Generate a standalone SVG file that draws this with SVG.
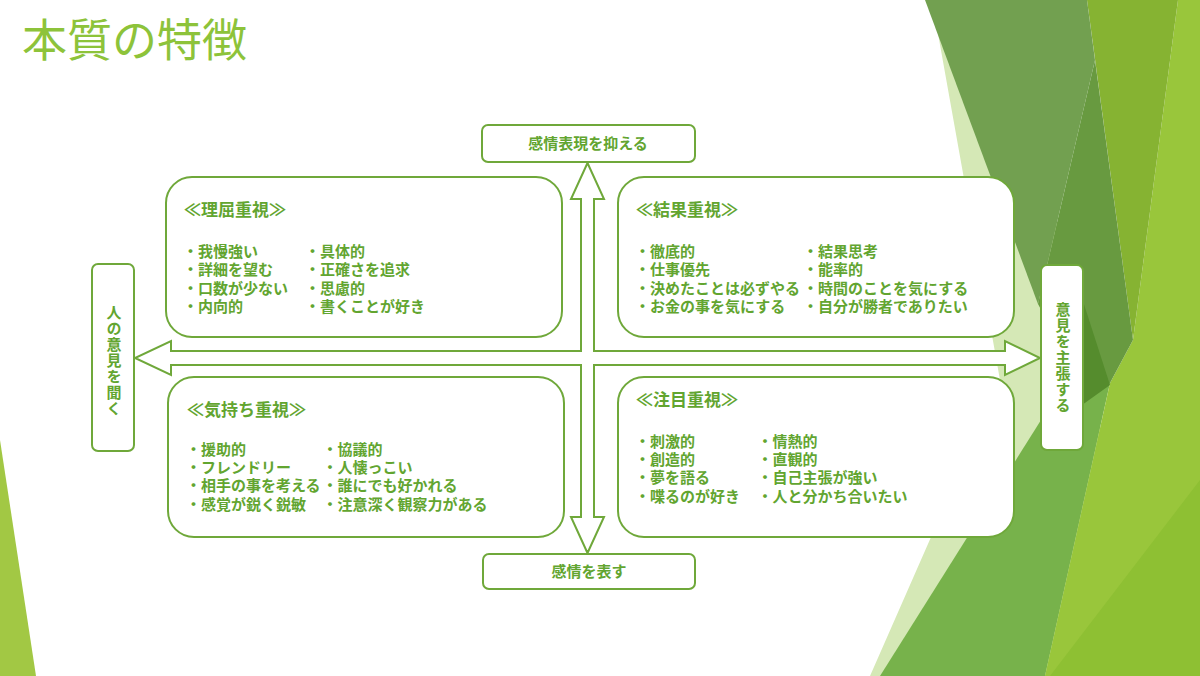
<svg xmlns="http://www.w3.org/2000/svg" width="1200" height="676" viewBox="0 0 1200 676">
<style>
.title{font-family:"Noto Sans CJK JP","Noto Sans",sans-serif;font-size:45px;font-weight:400;fill:#8DC33A}
.box{fill:#fff;stroke:#6FA83A;stroke-width:2}
.lbl{font-family:"Liberation Sans","Noto Sans CJK JP",sans-serif;font-size:15px;font-weight:700;fill:#62A530}
.hd{font-family:"Liberation Sans","Noto Sans CJK JP",sans-serif;font-size:17px;font-weight:700;fill:#62A530}
.it{font-family:"Liberation Sans","Noto Sans CJK JP",sans-serif;font-size:15px;font-weight:700;fill:#62A530}
.vt{writing-mode:vertical-rl;text-anchor:middle;letter-spacing:1px}
</style>
<g id="background">
<polygon points="0,440 36,676 0,676" fill="#A2C844"/>
<polygon points="932,0 1000,380 870,676 1100,676 1100,300" fill="#D5E8B6"/>
<polygon points="1087,347 1110,383 1045,676 880,676" fill="#77B24B"/>
<polygon points="1178,0 1200,0 1200,676 1045,676 1110,383 1133,340" fill="#99C63B"/>
<polygon points="1200,480 1200,676 1050,676" fill="#8EC033"/>
<polygon points="1087,0 1178,0 1133,340" fill="#86B332"/>
<polygon points="925,0 1087,0 1095,60 1038,304" fill="#72A050"/>
<polygon points="1095,60 1133,340 1110,383 1088,398 1038,304" fill="#689A40"/>
<polygon points="1082,298 1110,385 1082,405" fill="#558C2D"/>
</g>
<text class="title" x="22" y="57">本質の特徴</text>
<g id="connectors">
<path class="box" d="M587.5,163 L604,199 L594,199 L594,351 L1005,351 L1005,341 L1040,358 L1005,375 L1005,365 L594,365 L594,517 L604,517 L587.5,553 L571,517 L581,517 L581,365 L171,365 L171,375 L135,358 L171,341 L171,351 L581,351 L581,199 L571,199 Z"/>
</g>
<g id="top">
<rect class="box" x="482" y="125" width="213" height="37" rx="6"/>
<text class="lbl" x="588" y="148.5" text-anchor="middle">感情表現を抑える</text>
</g>
<g id="bottom">
<rect class="box" x="483" y="554" width="212" height="35" rx="6"/>
<text class="lbl" x="589" y="577" text-anchor="middle">感情を表す</text>
</g>
<g id="left">
<rect class="box" x="92" y="264" width="42" height="187" rx="6"/>
<text class="lbl vt" x="113" y="361">人の意見を聞く</text>
</g>
<g id="right">
<rect class="box" x="1041" y="265" width="42" height="185" rx="6"/>
<text class="lbl vt" x="1062" y="358">意見を主張する</text>
</g>
<g id="q-tl">
<rect class="box" x="166" y="177" width="396" height="160" rx="26"/>
<text class="hd" x="184" y="216">≪理屈重視≫</text>
<text class="it" y="257"><tspan x="183">・我慢強い</tspan><tspan x="183" dy="18.4">・詳細を望む</tspan><tspan x="183" dy="18.4">・口数が少ない</tspan><tspan x="183" dy="18.4">・内向的</tspan></text>
<text class="it" y="257"><tspan x="305">・具体的</tspan><tspan x="305" dy="18.4">・正確さを追求</tspan><tspan x="305" dy="18.4">・思慮的</tspan><tspan x="305" dy="18.4">・書くことが好き</tspan></text>
</g>
<g id="q-tr">
<rect class="box" x="618" y="177" width="396" height="160" rx="26"/>
<text class="hd" x="636" y="216">≪結果重視≫</text>
<text class="it" y="257"><tspan x="635">・徹底的</tspan><tspan x="635" dy="18.4">・仕事優先</tspan><tspan x="635" dy="18.4">・決めたことは必ずやる</tspan><tspan x="635" dy="18.4">・お金の事を気にする</tspan></text>
<text class="it" y="257"><tspan x="803">・結果思考</tspan><tspan x="803" dy="18.4">・能率的</tspan><tspan x="803" dy="18.4">・時間のことを気にする</tspan><tspan x="803" dy="18.4">・自分が勝者でありたい</tspan></text>
</g>
<g id="q-bl">
<rect class="box" x="168" y="377" width="396" height="160" rx="26"/>
<text class="hd" x="187" y="416">≪気持ち重視≫</text>
<text class="it" y="454.5"><tspan x="186">・援助的</tspan><tspan x="186" dy="18.4">・フレンドリー</tspan><tspan x="186" dy="18.4">・相手の事を考える</tspan><tspan x="186" dy="18.4">・感覚が鋭く鋭敏</tspan></text>
<text class="it" y="454.5"><tspan x="322.5">・協議的</tspan><tspan x="322.5" dy="18.4">・人懐っこい</tspan><tspan x="322.5" dy="18.4">・誰にでも好かれる</tspan><tspan x="322.5" dy="18.4">・注意深く観察力がある</tspan></text>
</g>
<g id="q-br">
<rect class="box" x="618" y="377" width="396" height="160" rx="26"/>
<text class="hd" x="636" y="406">≪注目重視≫</text>
<text class="it" y="446.5"><tspan x="635">・刺激的</tspan><tspan x="635" dy="18.4">・創造的</tspan><tspan x="635" dy="18.4">・夢を語る</tspan><tspan x="635" dy="18.4">・喋るのが好き</tspan></text>
<text class="it" y="446.5"><tspan x="757.5">・情熱的</tspan><tspan x="757.5" dy="18.4">・直観的</tspan><tspan x="757.5" dy="18.4">・自己主張が強い</tspan><tspan x="757.5" dy="18.4">・人と分かち合いたい</tspan></text>
</g>
</svg>
